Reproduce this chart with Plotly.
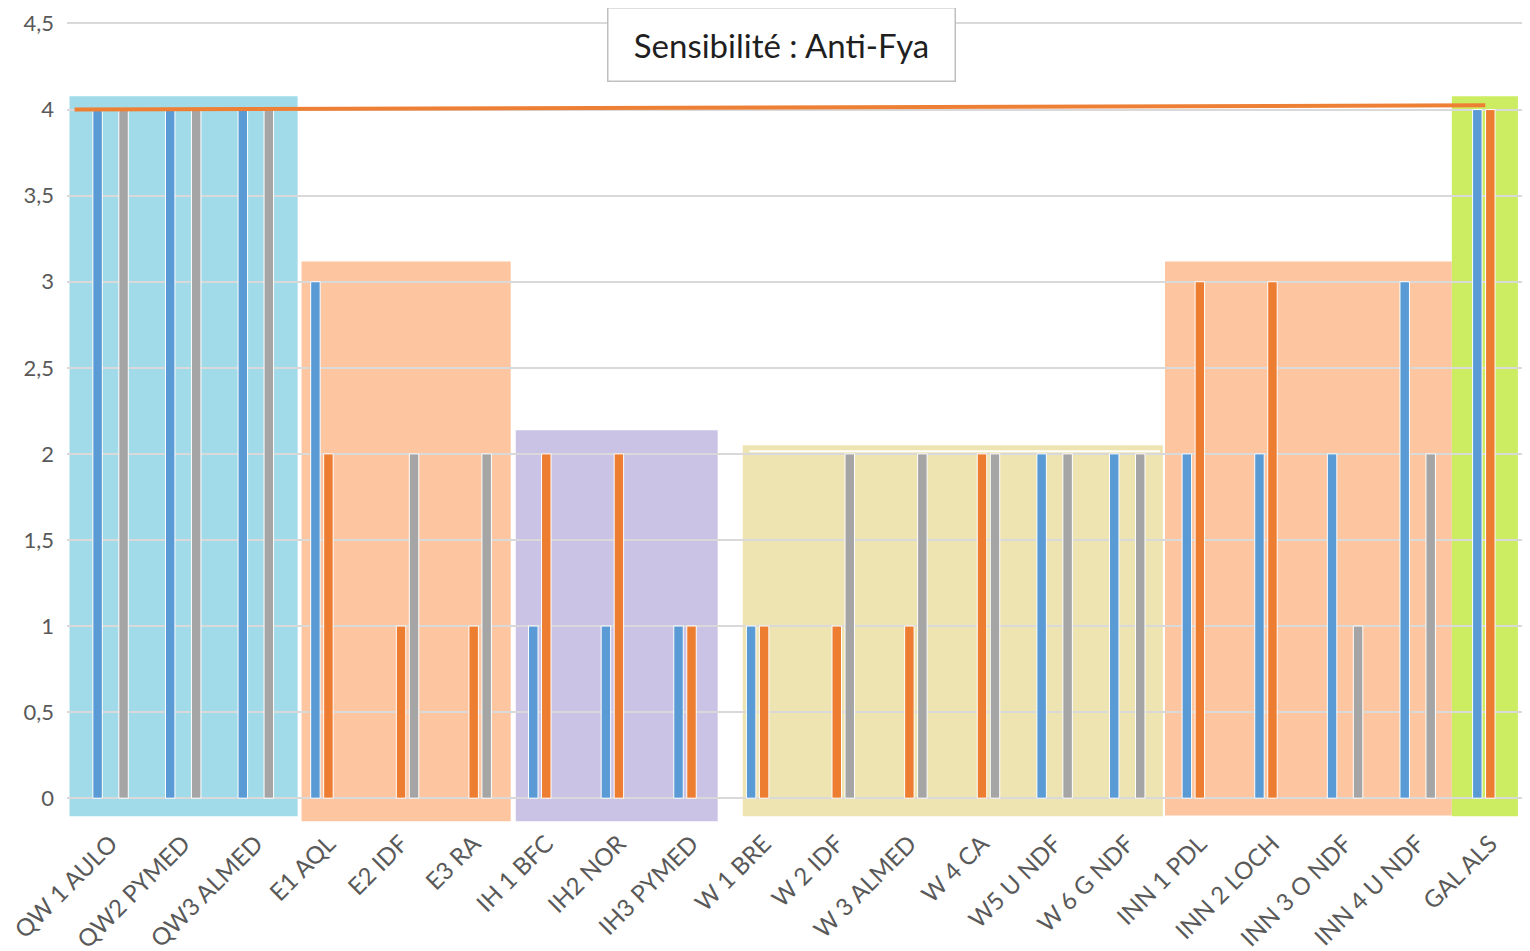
import plotly.graph_objects as go

categories = ["QW 1 AULO", "QW2 PYMED", "QW3 ALMED", "E1 AQL", "E2 IDF", "E3 RA",
              "IH 1 BFC", "IH2 NOR", "IH3 PYMED", "W 1 BRE", "W 2 IDF", "W 3 ALMED",
              "W 4 CA", "W5 U NDF", "W 6 G NDF", "INN 1 PDL", "INN 2 LOCH",
              "INN 3 O NDF", "INN 4 U NDF", "GAL ALS"]
serie1 = [4, 4, 4, 3, None, None, 1, 1, 1, 1, None, None, None, 2, 2, 2, 2, 2, 3, 4]
serie2 = [None, None, None, 2, 1, 1, 2, 2, 1, 1, 1, 1, 2, None, None, 3, 3, None, None, 4]
serie3 = [4, 4, 4, None, 2, 2, None, None, None, None, 2, 2, 2, 2, 2, None, None, 1, 2, None]
series_names = ["Série1", "Série2", "Série3"]
series_colors = ["#5B9BD5", "#ED7D31", "#A5A5A5"]
y_ticks = [0, 0.5, 1, 1.5, 2, 2.5, 3, 3.5, 4, 4.5]
threshold = [4.0, 4.025]
title_text = "Sensibilité : Anti-Fya"

fig = go.Figure()
for name, vals, col in zip(series_names, [serie1, serie2, serie3], series_colors):
    fig.add_trace(go.Bar(x=categories, y=vals, name=name, marker_color=col,
                         marker_line_color="white", marker_line_width=1))

# background group rectangles (x in category index units)
groups = [
    (-0.565, 2.576, -0.105, 4.077, "#A1DBE9"),
    (2.63, 5.51, -0.134, 3.118, "#FDC5A0"),
    (5.58, 8.36, -0.134, 2.137, "#CAC3E6"),
    (8.705, 14.49, -0.105, 2.05, "#EEE4B1"),
    (14.52, 18.47, -0.10, 3.118, "#FDC5A0"),
    (18.47, 19.38, -0.105, 4.077, "#CCEC62"),
]
shapes = []
for x0, x1, y0, y1, c in groups:
    shapes.append(dict(type="rect", xref="x", yref="y", x0=x0, x1=x1, y0=y0, y1=y1,
                       fillcolor=c, line=dict(width=0), layer="below"))
shapes.append(dict(type="line", xref="x", yref="y", x0=8.8, x1=14.45, y0=2.015, y1=2.015,
                   line=dict(color="white", width=2), layer="below"))
shapes.append(dict(type="line", xref="x", yref="y", x0=-0.496, x1=18.93,
                   y0=threshold[0], y1=threshold[1],
                   line=dict(color="#EE8035", width=4), layer="above"))

fig.update_layout(
    width=1530, height=951,
    margin=dict(l=59, r=15, t=0, b=135),
    paper_bgcolor="white", plot_bgcolor="white",
    barmode="group", bargap=0.463, bargroupgap=0.27,
    showlegend=False,
    separators=", ",
    font=dict(family="Lato, 'Open Sans', sans-serif", color="#595959"),
    shapes=shapes,
    xaxis=dict(type="category", categoryorder="array", categoryarray=categories,
               range=[-0.6, 19.45], showgrid=False, showline=False, zeroline=False,
               automargin=False,
               ticks="", tickangle=-45, tickfont=dict(size=24, color="#595959")),
    yaxis=dict(range=[-0.15, 4.59], tickvals=y_ticks, showgrid=True, gridcolor="#D9D9D9",
               gridwidth=1.5, zeroline=False, showline=False, ticks="",
               automargin=False, ticklabeloverflow="allow",
               ticklabelstandoff=12, tickfont=dict(size=22, color="#595959")),
    annotations=[dict(text=title_text, xref="paper", yref="paper", x=0.4907, y=0.955,
                      xanchor="center", yanchor="middle", showarrow=False,
                      font=dict(size=33, color="#1F1F1F", family="Lato, sans-serif"),
                      bgcolor="white", bordercolor="#BFBFBF", borderwidth=1.5,
                      width=346, height=72, borderpad=0)],
)

fig.write_html("out.html")
